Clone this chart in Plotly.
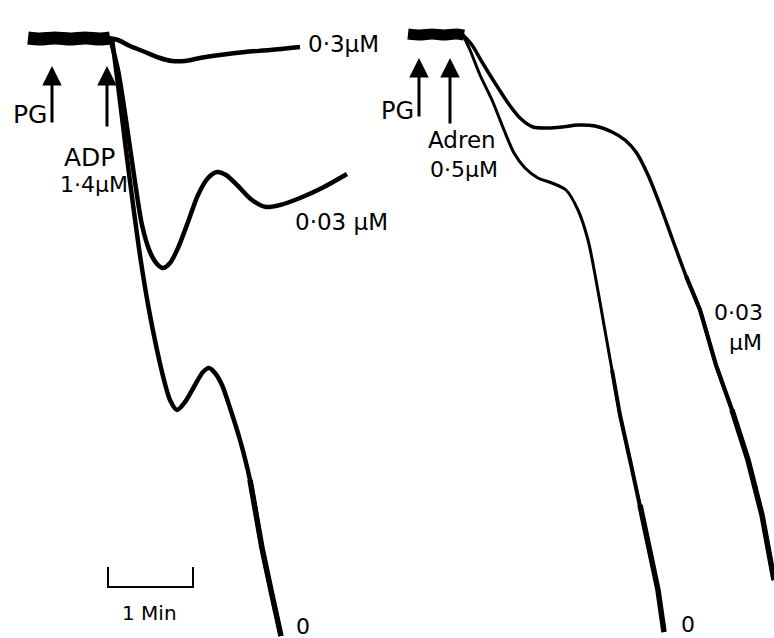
import plotly.graph_objects as go

# ---- Left panel (ADP 1.4 µM after PG) : x = recorder time units, y = deflection (down = aggregation)
base_left_x = [28, 40, 55, 70, 85, 100, 110]
base_left_y = [38, 39, 38, 39, 38, 39, 38]

adp_pg03_x = [108, 118, 130, 145, 160, 172, 185, 200, 220, 245, 270, 300]
adp_pg03_y = [38, 40, 46, 52, 58, 61, 61, 58, 55, 52, 50, 47]

adp_pg003_x = [110, 118, 126, 134, 142, 150, 157, 163, 170, 178, 188, 198, 208, 217, 226, 238, 252, 266, 280, 300, 322, 347]
adp_pg003_y = [38, 70, 120, 175, 225, 252, 264, 268, 263, 248, 222, 195, 178, 172, 175, 186, 200, 207, 205, 198, 188, 174]

adp_pg0_x = [112, 118, 126, 134, 141, 149, 157, 164, 170, 177, 185, 195, 203, 209, 215, 222, 230, 240, 250, 262, 272, 281]
adp_pg0_y = [38, 85, 150, 212, 262, 310, 350, 380, 400, 410, 402, 385, 372, 368, 373, 385, 408, 440, 480, 548, 595, 636]

# ---- Right panel (Adrenaline 0.5 µM after PG)
base_right_x = [408, 420, 432, 444, 456, 464]
base_right_y = [34, 35, 34, 35, 34, 35]

adr_pg003_x = [463, 472, 482, 495, 508, 520, 533, 548, 562, 578, 595, 612, 625, 636, 648, 660, 672, 686, 700, 716, 732, 748, 762, 774]
adr_pg003_y = [35, 45, 62, 83, 103, 118, 127, 128, 127, 125, 126, 132, 140, 152, 175, 205, 238, 276, 310, 365, 410, 460, 515, 580]

adr_pg0_x = [463, 470, 480, 492, 504, 514, 525, 538, 552, 566, 578, 588, 596, 604, 612, 620, 630, 640, 650, 658, 664]
adr_pg0_y = [35, 50, 75, 100, 130, 153, 168, 178, 183, 190, 210, 240, 280, 325, 370, 415, 460, 505, 550, 590, 632]

# scale bar: 1 minute
scale_x = [108, 108, 193, 193]
scale_y = [567, 587, 587, 567]

fig = go.Figure()

def add_line(x, y, w, shape="spline"):
    fig.add_trace(go.Scatter(x=x, y=y, mode="lines",
                             line=dict(color="black", width=w, shape=shape, smoothing=0.8),
                             hoverinfo="skip", showlegend=False))

add_line(base_left_x, base_left_y, 13)
add_line(base_right_x, base_right_y, 11)
add_line(adp_pg03_x, adp_pg03_y, 4.5)
add_line(adp_pg003_x, adp_pg003_y, 4.5)
add_line(adp_pg0_x, adp_pg0_y, 4.5)
add_line(adr_pg003_x, adr_pg003_y, 3.5)
add_line(adr_pg0_x, adr_pg0_y, 3)
# noisier (thicker) lower parts of the traces, thickening in steps
add_line(adp_pg0_x[18:], adp_pg0_y[18:], 5.5, "linear")
add_line(adr_pg0_x[14:], adr_pg0_y[14:], 4, "linear")
add_line(adr_pg0_x[17:], adr_pg0_y[17:], 5.5, "linear")
add_line(adr_pg003_x[17:], adr_pg003_y[17:], 4.2, "linear")
add_line(adr_pg003_x[20:], adr_pg003_y[20:], 5.5, "linear")

fig.add_trace(go.Scatter(x=scale_x, y=scale_y, mode="lines",
                         line=dict(color="black", width=2), hoverinfo="skip", showlegend=False))

# arrows (tip, tail)
arrows = [(52, 66, 52, 124), (107, 66, 107, 128), (419, 58, 419, 118), (450, 58, 450, 125)]
for tx, ty, sx, sy in arrows:
    fig.add_annotation(x=tx, y=ty, ax=sx, ay=sy, xref="x", yref="y", axref="x", ayref="y",
                       showarrow=True, arrowhead=2, arrowsize=1.3, arrowwidth=3, arrowcolor="black", text="")

FONT = "DejaVu Sans, Liberation Sans, sans-serif"
labels = [
    ("0·3μM", 343, 44, 23),
    ("PG", 30, 114, 25),
    ("ADP", 89, 157, 25),
    ("1·4μM", 94, 184, 22),
    ("0·03 μM", 341, 222, 23),
    ("1 Min", 149, 613, 20),
    ("0", 303, 626, 22),
    ("PG", 397, 111, 24),
    ("Adren", 462, 140, 23),
    ("0·5μM", 464, 169, 22),
    ("0·03", 738, 312, 22),
    ("μM", 745, 342, 22),
    ("0", 688, 624, 22),
]
for t, x, y, s in labels:
    fig.add_annotation(x=x, y=y, xref="x", yref="y", text=t, showarrow=False,
                       font=dict(family=FONT, size=s, color="black"), xanchor="center", yanchor="middle")

fig.update_layout(width=774, height=638, margin=dict(l=0, r=0, t=0, b=0),
                  paper_bgcolor="white", plot_bgcolor="white")
fig.update_xaxes(range=[0, 774], visible=False)
fig.update_yaxes(range=[638, 0], visible=False)

fig.write_html("out.html", config={"displayModeBar": False},
               post_script="document.body.style.margin='0';document.body.style.overflow='hidden';")
